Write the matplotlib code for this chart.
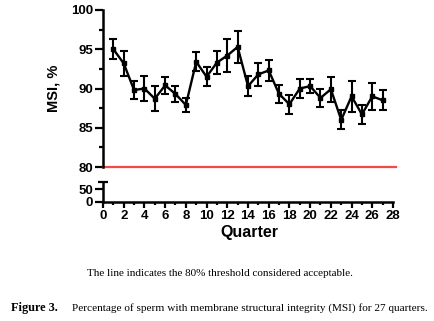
import matplotlib
matplotlib.use("Agg")
import matplotlib.pyplot as plt
from matplotlib.ticker import MultipleLocator

# MSI per quarter (mean and error bar half-width)
quarters = list(range(1, 28))
msi = [95.0, 93.2, 89.8, 90.0, 88.7, 90.4, 89.3, 87.9, 93.4, 91.5,
       93.3, 94.2, 95.3, 90.3, 91.8, 92.3, 89.3, 88.0, 90.0, 90.3,
       88.8, 89.9, 86.0, 89.0, 86.7, 89.0, 88.5]
err = [1.3, 1.6, 1.2, 1.6, 1.6, 1.1, 1.0, 0.9, 1.2, 1.2,
       1.5, 2.1, 2.0, 1.3, 1.45, 1.3, 1.1, 1.2, 1.15, 0.85,
       1.1, 1.6, 1.2, 2.0, 1.2, 1.7, 1.3]
threshold = 80
x_ticks = list(range(0, 29, 2))

plt.rcParams['font.family'] = ['Liberation Sans', 'DejaVu Sans']
plt.rcParams['font.weight'] = 'bold'

W, H = 435, 321
fig = plt.figure(figsize=(W / 100, H / 100), dpi=100)

left = 103 / W
width = (396 - 103) / W
xmax = 28 * (396 - 103) / (393 - 103)

# upper segment of the broken axis (80-100)
ax = fig.add_axes([left, 1 - 167 / H, width, (167 - 10) / H])
ax.errorbar(quarters, msi, yerr=err, color='black', lw=1.7, marker='s',
            markersize=3.3, capsize=3.2, capthick=1.5, elinewidth=1.5,
            clip_on=False, zorder=3)
ax.plot([0, xmax], [threshold, threshold], color='#f24a45', lw=1.6,
        clip_on=False, zorder=2)
ax.set_xlim(0, xmax)
ax.set_ylim(80, 100)
ax.set_yticks([80, 85, 90, 95, 100])
ax.yaxis.set_minor_locator(MultipleLocator(2.5))
ax.tick_params(axis='y', which='major', length=6, width=1.6, labelsize=9.5, pad=1)
ax.tick_params(axis='y', which='minor', length=3, width=1.6)
for s in ['top', 'right', 'bottom']:
    ax.spines[s].set_visible(False)
ax.spines['left'].set_linewidth(1.8)
ax.set_xticks([])
ax.set_ylabel('MSI, %', fontsize=10.5, fontweight='bold', labelpad=8)

# lower segment (0-50)
ax2 = fig.add_axes([left, 1 - 202 / H, width, (202 - 182) / H])
ax2.set_xlim(0, xmax)
ax2.set_ylim(0, 77)
ax2.set_yticks([0, 50])
ax2.set_yticks([77], minor=True)
ax2.set_xticks(x_ticks)
ax2.xaxis.set_minor_locator(MultipleLocator(1))
ax2.tick_params(axis='y', which='major', length=6, width=1.6, labelsize=9.5, pad=1)
ax2.tick_params(axis='y', which='minor', length=7, width=1.6, direction='inout')
ax2.tick_params(axis='x', which='major', length=4, width=1.6, labelsize=9.5, pad=2)
ax2.tick_params(axis='x', which='minor', length=2.5, width=1.6)
for s in ['top', 'right']:
    ax2.spines[s].set_visible(False)
ax2.spines['left'].set_linewidth(1.8)
ax2.spines['bottom'].set_linewidth(1.8)
ax2.spines['bottom'].set_bounds(0, 28)
ax2.set_xlabel('Quarter', fontsize=11.5, fontweight='bold', labelpad=2)

# captions
serif = ['Liberation Serif', 'DejaVu Serif']
fig.text(220 / W, 1 - 273 / H, 'The line indicates the 80% threshold considered acceptable.',
         family=serif, fontweight='normal', fontsize=8.0, ha='center', va='center')
fig.text(11 / W, 1 - 308 / H, 'Figure 3.', family=serif,
         fontweight='bold', fontsize=8.8, ha='left', va='center')
fig.text(72 / W, 1 - 308 / H,
         'Percentage of sperm with membrane structural integrity (MSI) for 27 quarters.',
         family=serif, fontweight='normal', fontsize=8.1, ha='left', va='center')

fig.savefig('out.png', dpi=100)
